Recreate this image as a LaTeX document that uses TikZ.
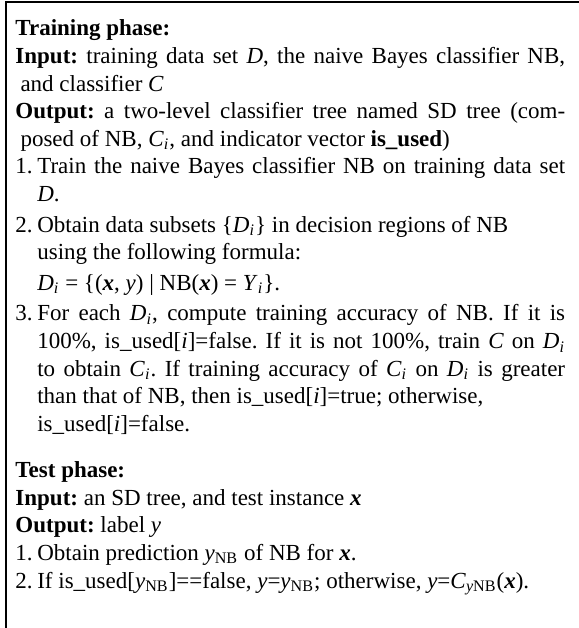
\documentclass[tikz,border=0pt]{standalone}
\usepackage{fontspec}
\setmainfont{Liberation Serif}
\usetikzlibrary{positioning}

\newcommand{\vi}[1]{\textit{#1}}
\newcommand{\bx}{\textbf{\textit{x}}}
\newcommand{\subvar}[2]{\textit{#1}\textsubscript{#2}}
\newlength{\stepwd}
\setlength{\stepwd}{9.5pt}
\newlength{\hangin}
\setlength{\hangin}{2.2pt}
\newcommand{\algstep}[1]{\par\hangindent=\stepwd\hangafter=1 \makebox[\stepwd][l]{#1.}}
\newcommand{\ioline}{\par\hangindent=\hangin\hangafter=1 }
\newcommand{\gap}{\par\vspace{1.3pt}}

\tikzset{
  phase/.style={anchor=base west, inner sep=0pt, text width=239pt, align=justify,
    font=\fontsize{10}{12}\selectfont\frenchspacing},
  frame/.style={line width=0.87pt}
}

\begin{document}
\begin{tikzpicture}[x=0.4348pt,y=-0.4348pt]
  \def\lh{27.6}
  \useasboundingbox (0,0) rectangle (578,628);
  \draw[frame] (6,640) -- (6,2.5) -- (590,2.5);
  % training phase
  \node[phase] (train) at (15,36) {%
    \textbf{Training phase:}
    \ioline\textbf{Input:} training data set \vi{D}, the naive Bayes classifier NB,\linebreak and classifier \vi{C}
    \ioline\textbf{Output:} a two-level classifier tree named SD tree (com-\linebreak posed of NB, \subvar{C}{\vi{i}}, and indicator vector \textbf{is\_used})
    \algstep{1}Train the naive Bayes classifier NB on training data set\linebreak \vi{D}.
    \gap
    \algstep{2}Obtain data subsets \{\subvar{D}{\vi{i}}\} in decision regions of NB\newline using the following formula:
    \gap
    \noindent\hspace*{\stepwd}\subvar{D}{\vi{i}} = \{(\bx, \vi{y}) | NB(\bx) = \subvar{Y}{\vi{i}}\}.
    \gap
    \algstep{3}For each \subvar{D}{\vi{i}}, compute training accuracy of NB. If it is\linebreak 100\%, is\_used[\vi{i}]=false. If it is not 100\%, train \vi{C} on \subvar{D}{\vi{i}}\linebreak to obtain \subvar{C}{\vi{i}}. If training accuracy of \subvar{C}{\vi{i}} on \subvar{D}{\vi{i}} is greater\linebreak than that of NB, then is\_used[\vi{i}]=true; otherwise,\newline is\_used[\vi{i}]=false.\par};
  % test phase
  \node[phase] (test) at (15,{36+16*\lh}) {%
    \textbf{Test phase:}
    \ioline\textbf{Input:} an SD tree, and test instance \bx
    \ioline\textbf{Output:} label \vi{y}
    \algstep{1}Obtain prediction \subvar{y}{NB} of NB for \bx.
    \algstep{2}If is\_used[\subvar{y}{NB}]==false, \vi{y}=\subvar{y}{NB}; otherwise, \vi{y}=\subvar{C}{\vi{y}NB}(\bx).\par};
\end{tikzpicture}
\end{document}
